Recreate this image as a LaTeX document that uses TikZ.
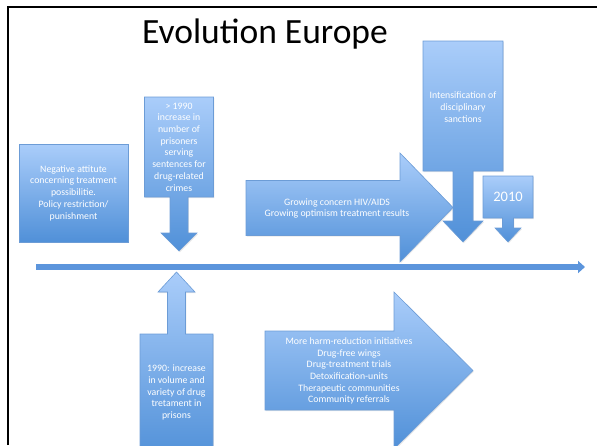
\documentclass[tikz,border=0pt]{standalone}
\usepackage{fontspec}
\setmainfont{Carlito}
\usetikzlibrary{arrows.meta,shadows}

\definecolor{shapetop}{RGB}{170,205,250}
\definecolor{shapebottom}{RGB}{80,144,216}
\definecolor{shapeline}{RGB}{108,156,214}
\definecolor{lineblue}{RGB}{92,149,220}

\tikzset{
	callout/.style={top color=shapetop, bottom color=shapebottom, draw=shapeline, line width=0.6pt,
		drop shadow={shadow xshift=0.8pt, shadow yshift=-1.2pt, opacity=0.18}},
	smalltext/.style={text=white, align=center, inner sep=0pt, font=\fontsize{9.8}{11.7}\selectfont},
	timeline/.style={draw=lineblue, line width=5.5pt, -{Triangle[length=7pt,width=12pt]}},
}

\begin{document}
\begin{tikzpicture}[x=1pt,y=-1pt]

		\useasboundingbox (0,0) rectangle (597,445);
		\clip (0,0) rectangle (597,445);

		% frame and title
		\draw[line width=2pt] (7.5,445) -- (7.5,6.5) -- (597,6.5);
		\node[font=\fontsize{35.5}{42}\selectfont, anchor=base] (title) at (265,43) {Evolution Europe};

		% time line
		\coordinate (start) at (36,267);
		\coordinate (end) at (585,267);
		\draw[timeline] (start) -- (end);

		% above the line
		\shadedraw[callout] (19,144) rectangle (128,242);
		\node[smalltext] (negative) at (73.5,193) {Negative attitute\\concerning treatment\\possibilitie.\\Policy restriction/\\punishment};

		\shadedraw[callout] (144.5,97) -- (213.5,97) -- (213.5,197) -- (188,197) -- (188,233) -- (197,233) -- (179,251)
			-- (161,233) -- (170,233) -- (170,197) -- (144.5,197) -- cycle;
		\node[smalltext] (prisoners) at (179,147) {> 1990\\increase in\\number of\\prisoners\\serving\\sentences for\\drug-related\\crimes};

		\shadedraw[callout] (246,180.5) -- (400,180.5) -- (400,153) -- (453,207.5) -- (400,262) -- (400,235.5) -- (246,235.5) -- cycle;
		\node[smalltext] (concern) at (337,208.5) {Growing concern HIV/AIDS\\Growing optimism treatment results};

		\shadedraw[callout] (423,41) -- (503,41) -- (503,171) -- (473,171) -- (473,221) -- (483,221) -- (463,242)
			-- (443,221) -- (453,221) -- (453,171) -- (423,171) -- cycle;
		\node[smalltext] (sanctions) at (463,107) {Intensification of\\disciplinary\\sanctions};

		\shadedraw[callout] (483,176) -- (533,176) -- (533,218) -- (513.5,218) -- (513.5,228) -- (521,228) -- (508,242)
			-- (495,228) -- (502.5,228) -- (502.5,218) -- (483,218) -- cycle;
		\node[smalltext, font=\fontsize{14.5}{17}\selectfont] (year) at (508,197) {2010};

		% below the line
		\shadedraw[callout] (176.5,272) -- (195,292) -- (185.5,292) -- (185.5,334) -- (213,334) -- (213,460)
			-- (140,460) -- (140,334) -- (167.5,334) -- (167.5,292) -- (158,292) -- cycle;
		\node[smalltext] (treatment) at (176.5,392.5) {1990: increase\\in volume and\\variety of drug\\tretament in\\prisons};

		\shadedraw[callout] (265,331) -- (394,331) -- (394,292) -- (473,370.5) -- (394,449) -- (394,410) -- (265,410) -- cycle;
		\node[smalltext] (harm) at (349,371) {More harm-reduction initiatives\\Drug-free wings\\Drug-treatment trials\\Detoxification-units\\Therapeutic communities\\Community referrals};

	\end{tikzpicture}
\end{document}
